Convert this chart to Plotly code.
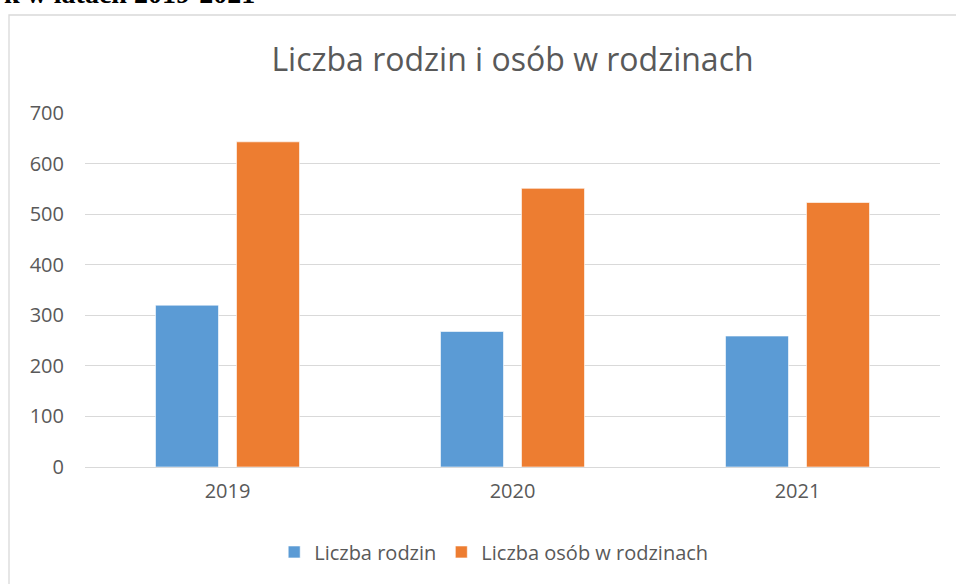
import plotly.graph_objects as go

years = ["2019", "2020", "2021"]
rodziny = [320, 268, 259]
osoby = [643, 551, 523]
series_names = ["Liczba rodzin", "Liczba osób w rodzinach"]
title_text = "Liczba rodzin i osób w rodzinach"
cut_caption = "k w latach 2019-2021"
y_ticks = [0, 100, 200, 300, 400, 500, 600, 700]

TXT = "#595959"
FONT = "Open Sans"

fig = go.Figure()
fig.add_trace(go.Bar(x=years, y=rodziny, name=series_names[0],
                     marker=dict(color="#5B9BD5", line=dict(color="rgba(255,255,255,0.6)", width=1))))
fig.add_trace(go.Bar(x=years, y=osoby, name=series_names[1],
                     marker=dict(color="#ED7D31", line=dict(color="rgba(255,255,255,0.6)", width=1))))

fig.update_layout(
    width=956, height=584,
    margin=dict(l=85, r=16, t=113, b=117),
    paper_bgcolor="white", plot_bgcolor="white",
    barmode="group", bargap=0.4316, bargroupgap=0.222,
    font=dict(family=FONT, color=TXT, size=20),
    title=dict(text=title_text, x=0.5, xref="paper", xanchor="center",
               y=1 - 60 / 584, yanchor="middle", yref="container",
               font=dict(size=32, color=TXT, family=FONT)),
    xaxis=dict(showgrid=False, showline=False, ticks="", ticklabelstandoff=10,
               tickfont=dict(size=20, color=TXT)),
    yaxis=dict(range=[0, 700], tickvals=y_ticks, showgrid=True, gridcolor="#d9d9d9",
               gridwidth=1.3, zeroline=True, zerolinecolor="#d9d9d9", zerolinewidth=1.3,
               showline=False, ticks="", ticklabelstandoff=20,
               tickfont=dict(size=20, color=TXT)),
    legend=dict(orientation="h", x=0.478, xanchor="center", y=-0.24, yanchor="middle",
                font=dict(size=20, color=TXT), itemwidth=30, traceorder="normal"),
    showlegend=True,
)

# chart border (extends beyond the visible frame)
fig.add_shape(type="rect", xref="paper", yref="paper",
              x0=(9 - 85) / 855, x1=1.2, y0=-0.6, y1=(467 - 15) / 354,
              line=dict(color="#d9d9d9", width=1.3), fillcolor="rgba(0,0,0,0)", layer="below")

# cut-off document caption at top (as in the reference)
fig.add_annotation(text="<b>" + cut_caption + "</b>", xref="paper", yref="paper",
                   x=(257 - 85) / 855, xanchor="right", y=(467 - 11) / 354, yanchor="bottom",
                   showarrow=False, font=dict(family="Liberation Serif", size=28, color="black"))

fig.write_html("out.html", config={"displayModeBar": False},
               post_script="document.body.style.margin='0';")
